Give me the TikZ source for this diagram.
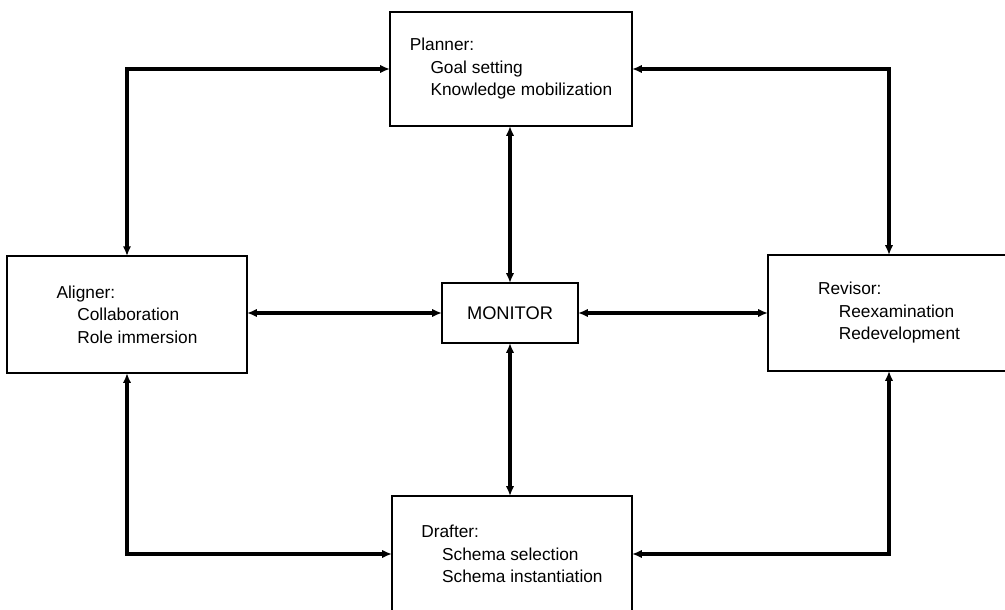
\documentclass[tikz,border=0pt]{standalone}
\usepackage{fontspec}
\setmainfont{Liberation Sans}
\usetikzlibrary{calc,arrows.meta}

\begin{document}
\begin{tikzpicture}[box/.style={draw, line width=1.1pt, align=left, inner sep=0pt, outer sep=0pt,
			font=\fontsize{12.3}{16}\selectfont, minimum width=6.05cm, minimum height=2.9cm},
		link/.style={line width=2.2pt, {Latex[length=7pt,width=6pt]}-{Latex[length=7pt,width=6pt]}}]
		\useasboundingbox (0,0) rectangle (25.125,-15.25);
		\node [box, minimum width=3.4cm, minimum height=1.5cm, font=\fontsize{13}{16}\selectfont] (monitor) at (12.75,-7.825) {MONITOR};
		\node [box, minimum height=2.85cm] (planner) at ($(monitor) + (0.025,6.1)$) {Planner:\\\hspace*{1.2em}Goal setting\\\hspace*{1.2em}Knowledge mobilization};
		\node [box, minimum width=6cm, minimum height=2.925cm] (aligner) at ($(monitor) + (-9.575,-0.04)$) {Aligner:\\\hspace*{1.2em}Collaboration\\\hspace*{1.2em}Role immersion};
		\node [box] (revisor) at ($(monitor) + (9.475,0)$) {Revisor:\\\hspace*{1.2em}Reexamination\\\hspace*{1.2em}Redevelopment};
		\node [box, minimum width=6cm] (drafter) at ($(monitor) + (0.05,-6.025)$) {Drafter:\\\hspace*{1.2em}Schema selection\\\hspace*{1.2em}Schema instantiation};
		% monitor links
		\draw [link] (monitor.north) -- (monitor.north |- planner.south);
		\draw [link] (monitor.south) -- (monitor.south |- drafter.north);
		\draw [link] (monitor.west) -- (monitor.west -| aligner.east);
		\draw [link] (monitor.east) -- (monitor.east -| revisor.west);
		% outer ring
		\draw [link] (aligner.north) |- (planner.west);
		\draw [link] (planner.east) -| (revisor.north);
		\draw [link] (aligner.south) |- (drafter.west);
		\draw [link] (drafter.east) -| (revisor.south);
		\end{tikzpicture}
\end{document}
